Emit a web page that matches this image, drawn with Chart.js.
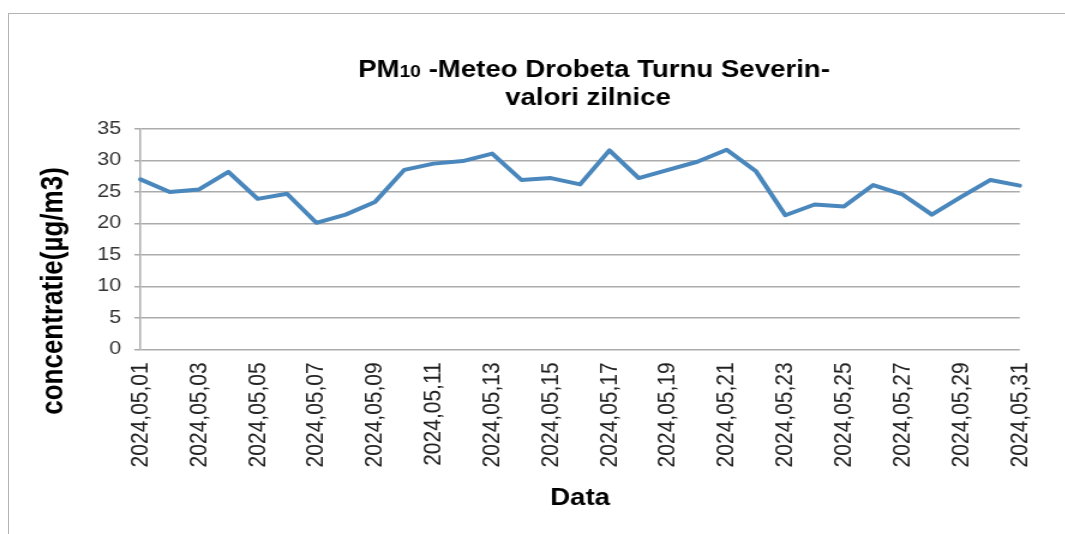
<!DOCTYPE html>
<html>
<head>
<meta charset="utf-8">
<title>PM10 - Meteo Drobeta Turnu Severin</title>
<script src="https://cdn.jsdelivr.net/npm/chart.js@4/dist/chart.umd.min.js"></script>
<style>
    html, body { margin: 0; padding: 0; background: #fff; overflow: hidden; width: 1065px; height: 534px; }
    #frame { position: absolute; left: 8px; top: 13px; width: 1200px; height: 700px; border: 1.5px solid #b4b4b4; }
    #wrap { position: absolute; left: 0; top: 0; transform: scaleX(1.2); transform-origin: 0 0; }
</style>
</head>
<body>
<div id="frame"></div>
<div id="wrap"><canvas id="js--chart" width="888" height="534"></canvas></div>
<script>
const days = ['2024,05,01', '2024,05,02', '2024,05,03', '2024,05,04', '2024,05,05', '2024,05,06', '2024,05,07',
    '2024,05,08', '2024,05,09', '2024,05,10', '2024,05,11', '2024,05,12', '2024,05,13', '2024,05,14',
    '2024,05,15', '2024,05,16', '2024,05,17', '2024,05,18', '2024,05,19', '2024,05,20', '2024,05,21',
    '2024,05,22', '2024,05,23', '2024,05,24', '2024,05,25', '2024,05,26', '2024,05,27', '2024,05,28',
    '2024,05,29', '2024,05,30', '2024,05,31'];
const pm10 = [27.0, 25.0, 25.4, 28.2, 23.9, 24.7, 20.1, 21.4, 23.4, 28.5, 29.5, 29.9, 31.1, 26.9, 27.2, 26.2,
    31.6, 27.2, 28.5, 29.8, 31.7, 28.3, 21.3, 23.0, 22.7, 26.1, 24.6, 21.4, 24.2, 26.9, 26.0];
const yMin = 0;
const yMax = 35;
const yStep = 5;

const titleMain = ['PM', '10', ' -Meteo Drobeta Turnu Severin-'];
const titleSub = 'valori zilnice';
const yTitle = 'concentratie(µg/m3)';
const xTitle = 'Data';

const fontFamily = '"Liberation Sans", Arial, sans-serif';
Chart.defaults.font.family = fontFamily;

// title (with small "10") and y axis title drawn by hand
const textPlugin = {
    id: 'texts',
    afterDraw(chart) {
        const c = chart.ctx;
        c.save();
        c.fillStyle = '#000';
        c.textBaseline = 'alphabetic';
        c.textAlign = 'left';

        const big = 'bold 23px ' + fontFamily;
        const small = 'bold 16px ' + fontFamily;
        c.font = big;
        const w1 = c.measureText(titleMain[0]).width;
        const w3 = c.measureText(titleMain[2]).width;
        c.font = small;
        const w2 = c.measureText(titleMain[1]).width;
        let x = 495 - (w1 + w2 + w3) / 2;
        c.font = big;
        c.fillText(titleMain[0], x, 77);
        x += w1;
        c.font = small;
        c.fillText(titleMain[1], x, 77);
        x += w2;
        c.font = big;
        c.fillText(titleMain[2], x, 77);

        c.textAlign = 'center';
        c.fillText(titleSub, 490, 105);

        c.font = 'bold 26px ' + fontFamily;
        c.translate(52, 291);
        c.rotate(-Math.PI / 2);
        c.fillText(yTitle, 0, 0);
        c.restore();
    }
};

const ctx = document.getElementById('js--chart');

const lineChart = new Chart(ctx, {
    type: 'line',
    data: {
        labels: days,
        datasets: [{
            label: 'PM10',
            data: pm10,
            borderColor: '#4a87bc',
            borderWidth: 4,
            borderJoinStyle: 'round',
            borderCapStyle: 'round',
            pointRadius: 0,
            tension: 0,
            fill: false
        }]
    },
    options: {
        responsive: false,
        animation: false,
        layout: {
            padding: { left: 70, right: 36, top: 129, bottom: 22 }
        },
        plugins: {
            legend: { display: false },
            tooltip: { enabled: false },
            title: { display: false }
        },
        scales: {
            x: {
                offset: false,
                grid: { display: false, drawTicks: false },
                border: { display: false },
                ticks: {
                    autoSkip: false,
                    minRotation: 90,
                    maxRotation: 90,
                    padding: 13,
                    color: '#222',
                    font: { size: 21 },
                    callback: function (value, index) {
                        return index % 2 === 0 ? this.getLabelForValue(value) : '';
                    }
                },
                title: {
                    display: true,
                    text: xTitle,
                    color: '#000',
                    font: { size: 23, weight: 'bold' },
                    padding: { top: 4, bottom: 0 }
                }
            },
            y: {
                min: yMin,
                max: yMax,
                grid: {
                    color: '#ababab',
                    lineWidth: 1.5,
                    tickLength: 5,
                    drawTicks: true
                },
                border: { display: true, color: '#ababab', width: 1.5 },
                ticks: {
                    stepSize: yStep,
                    padding: 11,
                    color: '#333',
                    font: { size: 18 }
                }
            }
        }
    },
    plugins: [textPlugin]
});
</script>
</body>
</html>
